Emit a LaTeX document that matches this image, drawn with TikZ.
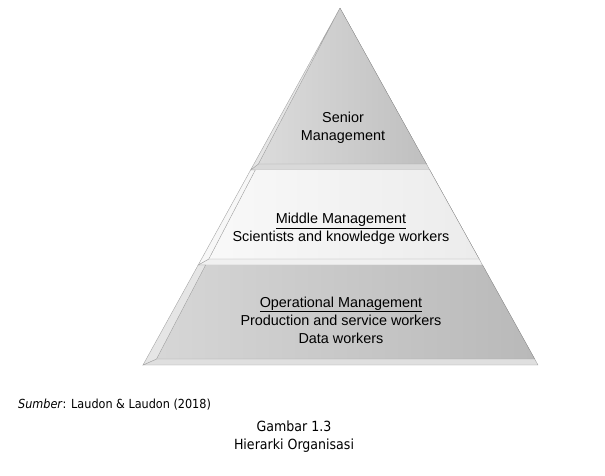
\documentclass[tikz,border=0pt]{standalone}
\usepackage{fontspec}
\setmainfont{Liberation Sans}
\newfontfamily\capfont{DejaVu Sans Condensed}
\usetikzlibrary{positioning}

\tikzset{
  face/.style={draw=gray!75, line width=0.4pt},
  bevel/.style={draw=gray!70, line width=0.4pt, fill=gray!20},
  label/.style={align=center, font=\fontsize{14.4}{18}\selectfont, inner sep=0pt},
  source/.style={font=\capfont\fontsize{12.5}{15}\selectfont, inner sep=0pt},
  caption/.style={font=\capfont\fontsize{14}{17}\selectfont, inner sep=0pt}
}

\begin{document}
\begin{tikzpicture}[x=1pt, y=-1pt]
\useasboundingbox (0,0) rectangle (605,475);

% corners of the pyramid
\coordinate (apex) at (340,8);
\coordinate (s-il) at (258.4,164); \coordinate (s-ir) at (426.5,164);
\coordinate (s-ol) at (250.6,170); \coordinate (s-or) at (429.8,170);
\coordinate (s-nl) at (255.3,170);
\coordinate (m-il) at (208.8,259); \coordinate (m-ir) at (479.2,259);
\coordinate (m-ol) at (198.2,265); \coordinate (m-or) at (482.5,265);
\coordinate (m-nl) at (205.6,265);
\coordinate (o-il) at (156.5,359); \coordinate (o-ir) at (534.7,359);
\coordinate (o-ol) at (143,365);   \coordinate (o-or) at (538,365);

% senior band
\fill[left color=gray!28, right color=gray!50] (apex) -- (s-ir) -- (s-il) -- cycle;
\draw[face] (apex) -- (s-ir);
\draw[bevel, fill=gray!30] (s-il) -- (s-ir) -- (s-or) -- (s-ol) -- cycle;
\draw[bevel] (apex) -- (s-il) -- (s-ol) -- cycle;

% middle band
\fill[left color=gray!5, right color=gray!15] (s-nl) -- (s-or) -- (m-ir) -- (m-il) -- cycle;
\draw[face] (s-or) -- (m-ir);
\draw[bevel, fill=gray!12] (m-il) -- (m-ir) -- (m-or) -- (m-ol) -- cycle;
\draw[bevel, fill=gray!6] (s-ol) -- (s-nl) -- (m-il) -- (m-ol) -- cycle;

% operational band
\fill[left color=gray!32, right color=gray!55] (m-nl) -- (m-or) -- (o-ir) -- (o-il) -- cycle;
\draw[face] (m-or) -- (o-ir);
\draw[bevel, fill=gray!25] (o-il) -- (o-ir) -- (o-or) -- (o-ol) -- cycle;
\draw[bevel] (m-ol) -- (m-nl) -- (o-il) -- (o-ol) -- cycle;

% texts
\node[label] (senior) at (343,128) {Senior\\Management};
\node[label] (middle) at (341,229) {\underline{Middle Management}\\Scientists and knowledge workers};
\node[label] (operational) at (341,320) {\underline{Operational Management}\\Production and service workers\\Data workers};

\node[source, anchor=west] (sumber) at (18,405) {\textit{Sumber}: Laudon \& Laudon (2018)};
\node[caption] (number) at (294,426) {Gambar 1.3};
\node[caption, below=7pt of number] (title) {Hierarki Organisasi};
\end{tikzpicture}
\end{document}
